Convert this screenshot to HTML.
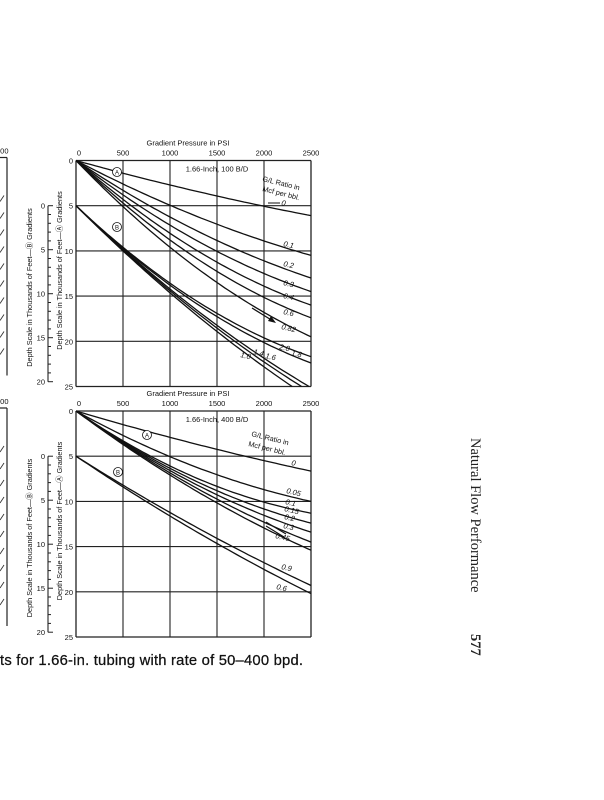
<!DOCTYPE html>
<html><head><meta charset="utf-8">
<style>
html,body{margin:0;padding:0;background:#fff;}
body{width:604px;height:800px;overflow:hidden;position:relative;}
svg{position:absolute;left:0;top:0;}
text{font-family:"Liberation Sans",sans-serif;fill:#111;}
</style></head>
<body>
<svg id="s" width="604" height="800" viewBox="0 0 604 800" xmlns="http://www.w3.org/2000/svg">
<g id="g"></g>
<text x="0" y="0" transform="translate(471,438) rotate(90)" style="font-family:'Liberation Serif',serif;font-size:14.5px;fill:#222">Natural Flow Performance</text>
<text x="0" y="0" transform="translate(471,634) rotate(90)" style="font-family:'Liberation Serif',serif;font-size:14.5px;font-weight:bold;fill:#222">577</text>
<text x="0" y="665" textLength="303" style="font-size:14.8px;fill:#111;stroke:#111;stroke-width:0.25">ts for 1.66-in. tubing with rate of 50–400 bpd.</text>
</svg>
<script>
var NS="http://www.w3.org/2000/svg",G=document.getElementById("g");
function el(t,a,txt){var e=document.createElementNS(NS,t);for(var k in a)e.setAttribute(k,a[k]);if(txt!=null)e.textContent=txt;G.appendChild(e);return e;}
var X0=76,XS=0.094;
function chart(Y0,title,curves,labels,extra){
  var YS=9.04;
  function px(P){return X0+P*XS;} function py(D){return Y0+D*YS;}
  for(var i=0;i<=5;i++){el("line",{x1:px(i*500),y1:Y0,x2:px(i*500),y2:py(25),stroke:"#222","stroke-width":(i==0||i==5)?1.3:1.1});}
  for(var j=0;j<=5;j++){el("line",{x1:X0,y1:py(j*5),x2:px(2500),y2:py(j*5),stroke:"#222","stroke-width":(j==0||j==5)?1.3:1.1});}
  var tl=["0","500","1000","1500","2000","2500"];
  for(var i=0;i<=5;i++)el("text",{x:px(i*500)+(i==0?3:0),y:Y0-5,"font-size":7.5,"text-anchor":"middle"},tl[i]);
  el("text",{x:188,y:Y0-15,"font-size":7.5,"text-anchor":"middle"},"Gradient Pressure in PSI");
  for(var j=0;j<=5;j++)el("text",{x:73,y:py(j*5)+3,"font-size":7.5,"text-anchor":"end"},String(j*5));
  var by0=py(5),bs=8.8;
  el("line",{x1:48,y1:by0,x2:48,y2:by0+20*bs,stroke:"#222","stroke-width":1.1});
  for(var k=0;k<=20;k++){var L=(k%5==0)?5:3;el("line",{x1:48,y1:by0+k*bs,x2:48+L,y2:by0+k*bs,stroke:"#222","stroke-width":1});}
  for(var k=0;k<=4;k++)el("text",{x:45,y:by0+k*5*bs+3,"font-size":7.5,"text-anchor":"end"},String(k*5));
  el("text",{x:0,y:0,"font-size":7.3,"text-anchor":"middle",transform:"translate(62,"+(Y0+110)+") rotate(-90)"},"Depth Scale in Thousands of Feet—\u24B6 Gradients");
  el("text",{x:0,y:0,"font-size":7.3,"text-anchor":"middle",transform:"translate(32,"+(Y0+127)+") rotate(-90)"},"Depth Scale in Thousands of Feet—\u24B7 Gradients");
  el("line",{x1:7,y1:Y0-3,x2:7,y2:Y0+215,stroke:"#222","stroke-width":1.2});
  el("line",{x1:0,y1:Y0-3,x2:7,y2:Y0-3,stroke:"#222","stroke-width":1.2});
  el("text",{x:-4,y:Y0-7,"font-size":7.5},"500");
  for(var k=0;k<10;k++){var yy=Y0+35+k*17;el("line",{x1:0,y1:yy+6,x2:4,y2:yy,stroke:"#333","stroke-width":0.9});}
  curves.forEach(function(c){
    var D0=c[0],Dm=c[1],Pe=c[2],De=c[3];
    var b=((De-D0)/Pe-(Dm-D0)/500)/(Pe-500),a=(Dm-D0)/500-500*b;
    var pts=[];for(var n=0;n<=60;n++){var P=Pe*n/60,D=D0+a*P+b*P*P;pts.push(px(P).toFixed(1)+","+py(D).toFixed(1));}
    el("polyline",{points:pts.join(" "),fill:"none",stroke:"#111","stroke-width":1.3});
  });
  labels.forEach(function(l){el("text",{x:0,y:0,"font-size":l[3]||7.5,"font-style":"italic",transform:"translate("+l[1]+","+l[2]+") rotate(13)"},l[0]);});
  el("text",{x:217,y:Y0+11,"font-size":7.5,"text-anchor":"middle"},title);
  extra(px,py);
}
chart(160.5,"1.66-Inch, 100 B/D",
 [[0,1.4,2500,6.1],[0,2.6,2500,10.5],[0,3.3,2500,13],[0,3.8,2500,14.5],[0,4.3,2500,16],[0,4.7,2500,17.4],[0,5.1,2500,19.5],
  [5,9.6,2500,21.7],[5,9.7,2500,22.4],[5,9.8,2480,25],[5,9.9,2400,25],[5,10.0,2300,25]],
 [["0",281,205],["0.1",283,246],["0.2",283,266],["0.3",283,285],["0.4",283,298],["0.6",283,314],["0.82",281,329],["2.0",279,349],["1.8",291,355],["1.6",265,358],["1.4",253,354],["1.0",240,357]],
 function(px,py){
  el("text",{x:0,y:0,"font-size":7.3,transform:"translate(262,181) rotate(14)"},"G/L Ratio in");
  el("text",{x:0,y:0,"font-size":7.3,transform:"translate(262,191) rotate(14)"},"Mcf per bbl.");
  el("line",{x1:268,y1:203,x2:280,y2:203,stroke:"#111","stroke-width":1});
  el("line",{x1:252,y1:308,x2:273,y2:321,stroke:"#111","stroke-width":1.2});
  el("polygon",{points:"276,323 268,321 271,316",fill:"#111"});
  el("circle",{cx:117,cy:172,r:4.5,fill:"#fff",stroke:"#111","stroke-width":0.8});
  el("text",{x:117,y:174.5,"font-size":6,"text-anchor":"middle"},"A");
  el("circle",{cx:117,cy:227,r:4.5,fill:"#fff",stroke:"#111","stroke-width":0.8});
  el("text",{x:117,y:229.5,"font-size":6,"text-anchor":"middle"},"B");
 });
chart(411,"1.66-Inch, 400 B/D",
 [[0,1.5,2500,6.65],[0,2.7,2500,10.0],[0,3.3,2500,11.3],[0,3.4,2500,12.4],[0,3.5,2500,13.4],[0,3.6,2500,14.5],[0,3.7,2500,15.4],
  [5,8.2,2500,19.3],[5,8.4,2500,20.2]],
 [["0",291,465],["0.05",286,493],["0.1",285,504],["0.15",284,511],["0.2",284,519],["0.3",283,528],["0.45",275,538],["0.9",281,569],["0.6",276,589]],
 function(px,py){
  el("text",{x:0,y:0,"font-size":7.3,transform:"translate(251,436) rotate(14)"},"G/L Ratio in");
  el("text",{x:0,y:0,"font-size":7.3,transform:"translate(248,446) rotate(14)"},"Mcf per bbl.");
  el("line",{x1:266,y1:522,x2:286,y2:534,stroke:"#111","stroke-width":1.1});
  el("line",{x1:266,y1:526,x2:284,y2:537,stroke:"#111","stroke-width":1.1});
  el("circle",{cx:147,cy:435,r:4.5,fill:"#fff",stroke:"#111","stroke-width":0.8});
  el("text",{x:147,y:437.5,"font-size":6,"text-anchor":"middle"},"A");
  el("circle",{cx:118,cy:472,r:4.5,fill:"#fff",stroke:"#111","stroke-width":0.8});
  el("text",{x:118,y:474.5,"font-size":6,"text-anchor":"middle"},"B");
 });
</script>
</body></html>
